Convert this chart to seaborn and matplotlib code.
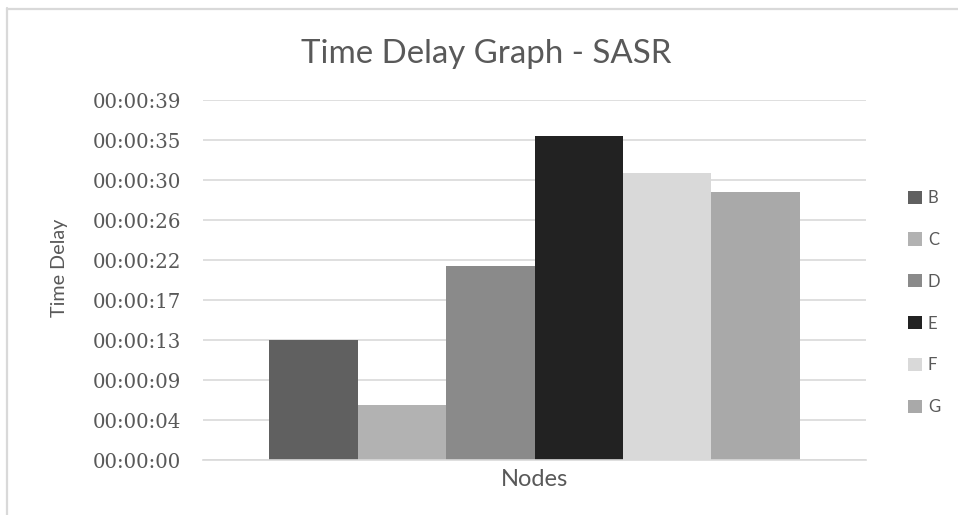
import numpy as np
import pandas as pd
import matplotlib
matplotlib.use("Agg")
import matplotlib.pyplot as plt
import seaborn as sns
from matplotlib.lines import Line2D

# ---- data ----
nodes = ["B", "C", "D", "E", "F", "G"]
delay_seconds = [13.0, 6.0, 21.05, 35.1, 31.1, 29.07]
bar_colors = ["#606060", "#b2b2b2", "#8a8a8a", "#222222", "#d9d9d9", "#a9a9a9"]
ytick_labels = ["00:00:00", "00:00:04", "00:00:09", "00:00:13", "00:00:17",
                "00:00:22", "00:00:26", "00:00:30", "00:00:35", "00:00:39"]
y_max = 39.0
category = "Nodes"

df = pd.DataFrame({"cat": [category] * len(nodes), "node": nodes, "delay": delay_seconds})

sns.set_theme(style="white")
plt.rcParams["font.family"] = ["Lato", "DejaVu Sans"]
text_color = "#595959"
grid_color = "#d9d9d9"

W, H = 958, 515
fig = plt.figure(figsize=(W / 100, H / 100), dpi=100)
ax = fig.add_axes([203 / W, 1 - 460 / H, (866 - 203) / W, (460 - 100) / H])

sns.barplot(data=df, x="cat", y="delay", hue="node", hue_order=nodes,
            palette=dict(zip(nodes, bar_colors)), width=0.8, gap=0,
            saturation=1, linewidth=0, ax=ax, legend=True)

ax.set_ylim(0, y_max)
ax.set_xlim(-0.5, 0.5)
yt = np.linspace(0, y_max, len(ytick_labels))
ax.set_yticks(yt)
ax.set_yticklabels(ytick_labels, family=["DejaVu Serif"], fontsize=14.2, color=text_color)
ax.tick_params(axis="y", length=0, pad=16)
ax.tick_params(axis="x", length=0)
ax.set_xticks([])
ax.set_xlabel("")
ax.set_ylabel("")
ax.set_axisbelow(True)
ax.yaxis.grid(True, color=grid_color, linewidth=1.2)
for s in ["top", "right", "left"]:
    ax.spines[s].set_visible(False)
ax.spines["bottom"].set_color(grid_color)
ax.spines["bottom"].set_linewidth(1.2)

# labels
fig.text(486 / W, 1 - 63 / H, "Time Delay Graph - SASR", ha="center", va="baseline",
         fontsize=23.8, color=text_color)
fig.text(534.5 / W, 1 - 480 / H, category, ha="center", va="center",
         fontsize=17, color=text_color)
fig.text(60 / W, 1 - 268 / H, "Time Delay", ha="center", va="center", rotation=90,
         fontsize=14.2, color=text_color)

# legend
handles, labels = ax.get_legend_handles_labels()
ax.get_legend().remove()
leg = fig.legend(handles, labels, loc="upper left", bbox_to_anchor=(908 / W, 1 - 190 / H),
                 frameon=False, fontsize=12, labelcolor=text_color, handlelength=0.84,
                 handleheight=0.84, handletextpad=0.35, labelspacing=1.55,
                 borderpad=0, borderaxespad=0)

# chart border
fig.add_artist(Line2D([7 / W, 7 / W], [0, 1 - 8 / H], color=grid_color, linewidth=1.6))
fig.add_artist(Line2D([7 / W, 1], [1 - 8.5 / H, 1 - 8.5 / H], color=grid_color, linewidth=1.6))

fig.savefig("out.png", dpi=100)
